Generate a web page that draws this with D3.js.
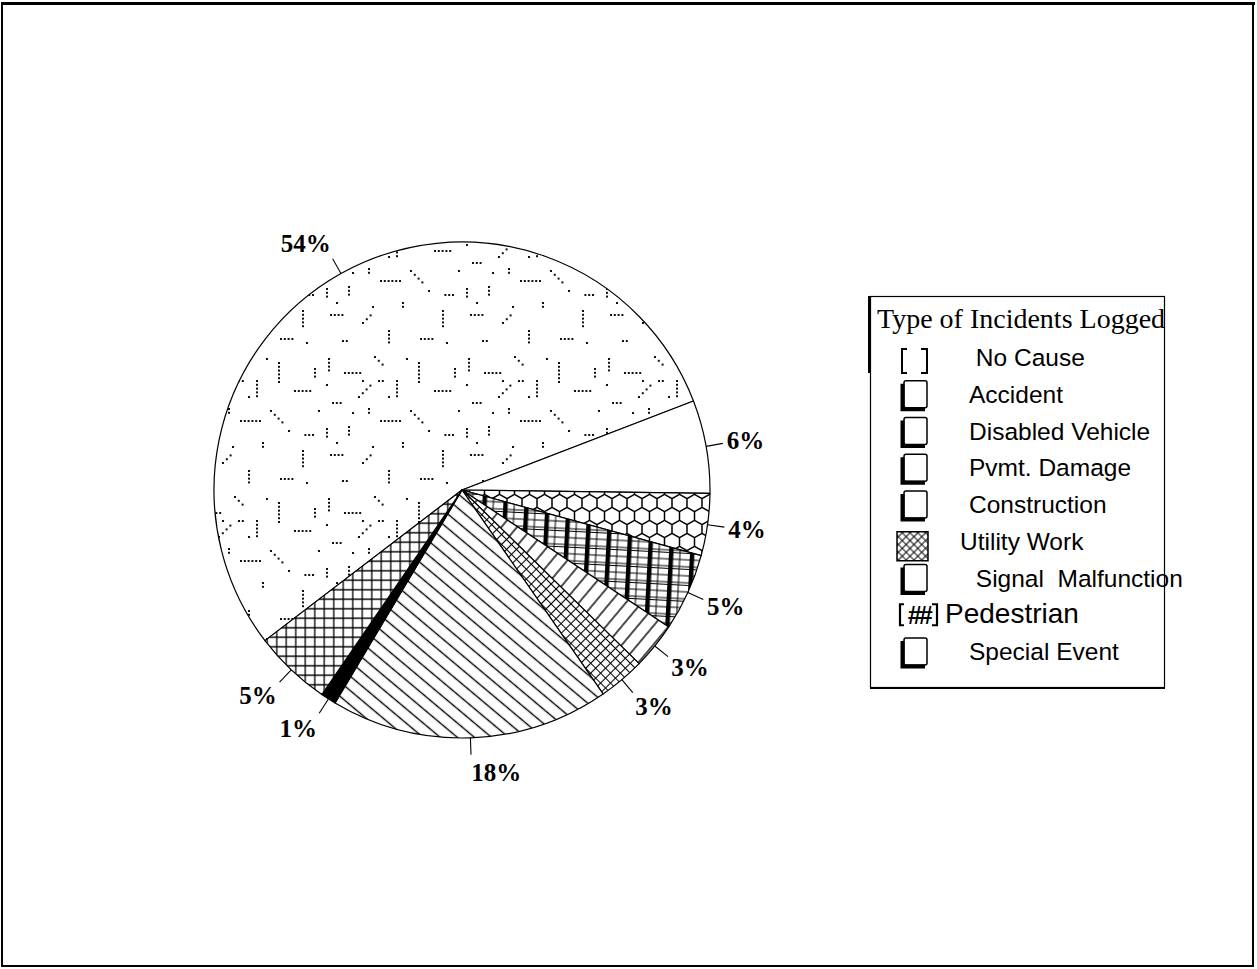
<!DOCTYPE html>
<html>
<head>
<meta charset="utf-8">
<script src="https://cdn.jsdelivr.net/npm/d3@7"></script>
<style>
  body { margin: 0; background: #fff; }
  svg { display: block; }
</style>
</head>
<body>
<svg id="chart"></svg>
<script>
// --- Data (pie order, clockwise from the big slice) ---
const categories = ["No Cause", "Accident", "Disabled Vehicle", "Pvmt. Damage", "Construction",
                    "Utility Work", "Signal Malfunction", "Pedestrian", "Special Event"];
const percents = [54, 6, 4, 5, 3, 3, 18, 1, 5];
const pctLabels = ["54%", "6%", "4%", "5%", "3%", "3%", "18%", "1%", "5%"];
const legendTitle = "Type of Incidents Logged";

const fills = ["url(#dots)", "#fff", "url(#hex)", "url(#plaid)", "url(#stripeUp)",
               "url(#smallCross)", "url(#stripeDown)", "#000", "url(#grid)"];
const legendIcons = ["bracket", "box", "box", "box", "box", "cross", "box", "hash", "box"];

// --- Sizing ---
const width = 1257, height = 969;
const cx = 462, cy = 490, radius = 248;

const svg = d3.select("#chart").attr("width", width).attr("height", height);
const defs = svg.append("defs");

// --- Patterns ---
// sparse dotted texture: short dotted runs [x, y, dx, dy, count]
const dotRuns = [
    [6, 8, 0, 1, 4], [22, 22, 1, 0, 5], [52, 6, 1, 1, 3], [74, 30, 0, 1, 5], [10, 52, 1, 0, 3],
    [36, 46, 1, -1, 4], [58, 70, 1, 0, 6], [26, 76, 0, 1, 3], [130, 84, -1, 0, 3], [46, 58, 0, 1, 2],
    [96, 12, 0, 1, 6], [112, 40, 1, 0, 5], [88, 60, 1, 1, 4], [120, 100, 0, 1, 5], [8, 104, 1, 0, 4],
    [40, 112, 1, -1, 3], [66, 120, 0, 1, 4], [98, 128, 1, 0, 4], [132, 18, 0, 1, 3], [20, 130, 1, 0, 2],
    [80, 92, 0, 1, 2], [56, 30, 1, 0, 2], [4, 78, 0, 1, 3],
    [84, 8, 0, 0, 1], [66, 46, 0, 0, 1], [4, 34, 0, 0, 1], [40, 30, 0, 0, 1], [14, 92, 0, 0, 1],
    [106, 80, 0, 0, 1], [136, 60, 0, 0, 1], [50, 96, 0, 0, 1], [124, 132, 0, 0, 1], [30, 62, 0, 0, 1]
];
const dots = defs.append("pattern").attr("id", "dots")
    .attr("patternUnits", "userSpaceOnUse").attr("width", 140).attr("height", 140);
dots.append("rect").attr("width", 140).attr("height", 140).attr("fill", "#fff");
dotRuns.forEach(([x0, y0, dx, dy, n]) => {
    for (let i = 0; i < n; i++) {
        dots.append("rect").attr("x", x0 + dx * i * 3.8).attr("y", y0 + dy * i * 3.8)
            .attr("width", 2).attr("height", 2).attr("fill", "#111");
    }
});

// honeycomb
const hex = defs.append("pattern").attr("id", "hex")
    .attr("patternUnits", "userSpaceOnUse").attr("width", 15).attr("height", 26);
hex.append("rect").attr("width", 15).attr("height", 26).attr("fill", "#fff");
hex.append("path")
    .attr("d", "M7.5,0V4.33L15,8.67V17.33L7.5,21.67V26M7.5,21.67L0,17.33V8.67L7.5,4.33")
    .attr("fill", "none").attr("stroke", "#000").attr("stroke-width", 1.5);

// plaid
const plaid = defs.append("pattern").attr("id", "plaid")
    .attr("patternUnits", "userSpaceOnUse").attr("width", 21).attr("height", 16)
    .attr("patternTransform", "rotate(3)");
plaid.append("rect").attr("width", 21).attr("height", 16).attr("fill", "#fff");
plaid.append("rect").attr("x", 0).attr("width", 4.5).attr("height", 16).attr("fill", "#000");
plaid.append("path").attr("d", "M11,0V16M0,1H21M0,3.5H21M0,10H21")
    .attr("stroke", "#000").attr("stroke-width", 1);

// stripes
function stripes(id, spacing, angle, sw) {
    const p = defs.append("pattern").attr("id", id)
        .attr("patternUnits", "userSpaceOnUse").attr("width", spacing).attr("height", spacing)
        .attr("patternTransform", `rotate(${angle})`);
    p.append("rect").attr("width", spacing).attr("height", spacing).attr("fill", "#fff");
    p.append("path").attr("d", `M0,${spacing / 2}H${spacing}`)
        .attr("stroke", "#000").attr("stroke-width", sw);
}
stripes("stripeUp", 12, -50, 1.4);
stripes("stripeDown", 11, 40, 1.4);

// grids
function grid(id, spacing, angle, sw) {
    const p = defs.append("pattern").attr("id", id)
        .attr("patternUnits", "userSpaceOnUse").attr("width", spacing).attr("height", spacing)
        .attr("patternTransform", `rotate(${angle})`);
    p.append("rect").attr("width", spacing).attr("height", spacing).attr("fill", "#fff");
    p.append("path").attr("d", `M0,${spacing / 2}H${spacing}M${spacing / 2},0V${spacing}`)
        .attr("stroke", "#000").attr("stroke-width", sw);
}
grid("smallCross", 7, 45, 1.1);
grid("grid", 9.5, 0, 1.3);
grid("legendCross", 5.5, 45, 1);

// --- Outer frame ---
svg.append("rect")
    .attr("x", 2).attr("y", 4).attr("width", 1251).attr("height", 962)
    .attr("fill", "none").attr("stroke", "#000").attr("stroke-width", 2);
svg.append("line").attr("x1", 1).attr("x2", 1255).attr("y1", 3.5).attr("y2", 3.5)
    .attr("stroke", "#000").attr("stroke-width", 3);

// --- Pie ---
const a0 = (142.6 + 90) * Math.PI / 180;
const pie = d3.pie().sort(null).value(d => d).startAngle(a0).endAngle(a0 + 2 * Math.PI);
const arcs = pie(percents);
const arc = d3.arc().innerRadius(0).outerRadius(radius);

const g = svg.append("g").attr("transform", `translate(${cx},${cy})`);

g.selectAll("path.slice")
    .data(arcs)
    .join("path")
    .attr("class", "slice")
    .attr("d", arc)
    .attr("fill", (d, i) => fills[i])
    .attr("stroke", "#000")
    .attr("stroke-width", 1.2)
    .attr("stroke-linejoin", "round");

// --- Leader lines & labels ---
const arcAt = r => d3.arc().innerRadius(r).outerRadius(r);
const lineStart = arcAt(radius), lineEnd = arcAt(radius + 17), textPos = arcAt(radius + 21);
const mid = d => (d.startAngle + d.endAngle) / 2;

g.selectAll("line.leader")
    .data(arcs)
    .join("line")
    .attr("class", "leader")
    .attr("x1", d => lineStart.centroid(d)[0])
    .attr("y1", d => lineStart.centroid(d)[1])
    .attr("x2", d => lineEnd.centroid(d)[0])
    .attr("y2", d => lineEnd.centroid(d)[1])
    .attr("stroke", "#000")
    .attr("stroke-width", 1.1);

g.selectAll("text.pct")
    .data(arcs)
    .join("text")
    .attr("class", "pct")
    .attr("x", d => textPos.centroid(d)[0])
    .attr("y", d => textPos.centroid(d)[1] + 8.5 - Math.cos(mid(d)) * 14)
    .attr("text-anchor", d => Math.sin(mid(d)) > -0.3 ? "start" : "end")
    .attr("font-family", "'Liberation Serif', 'Times New Roman', serif")
    .attr("font-weight", "bold")
    .attr("font-size", 25)
    .text((d, i) => pctLabels[i]);

// --- Legend ---
const legend = svg.append("g");
legend.append("rect")
    .attr("x", 870.5).attr("y", 296.5).attr("width", 294).attr("height", 391)
    .attr("fill", "none").attr("stroke", "#000").attr("stroke-width", 1.2);
legend.append("line").attr("x1", 869.5).attr("x2", 869.5).attr("y1", 296).attr("y2", 373)
    .attr("stroke", "#000").attr("stroke-width", 3);
legend.append("line").attr("x1", 870).attr("x2", 1165).attr("y1", 688).attr("y2", 688)
    .attr("stroke", "#000").attr("stroke-width", 2);

legend.append("text")
    .attr("x", 877).attr("y", 328)
    .attr("font-family", "'Liberation Serif', 'Times New Roman', serif")
    .attr("font-size", 28)
    .text(legendTitle);

const rowY = d3.scalePoint().domain(categories).range([366, 660]);

categories.forEach((name, i) => {
    const base = rowY(name);
    const kind = legendIcons[i];
    if (kind === "bracket") {
        legend.append("path")
            .attr("d", `M907,${base - 17}H902V${base + 7}H907M921,${base - 17}H927V${base + 7}H921`)
            .attr("fill", "none").attr("stroke", "#000").attr("stroke-width", 2);
    } else if (kind === "box") {
        legend.append("rect")
            .attr("x", 904).attr("y", base - 22).attr("width", 23).attr("height", 27).attr("rx", 2)
            .attr("fill", "#fff").attr("stroke", "#000").attr("stroke-width", 1.5);
        legend.append("path")
            .attr("d", `M902.5,${base - 19}V${base + 6.5}H925`)
            .attr("fill", "none").attr("stroke", "#000").attr("stroke-width", 4);
    } else if (kind === "cross") {
        legend.append("rect")
            .attr("x", 897).attr("y", base - 18).attr("width", 31).attr("height", 29)
            .attr("fill", "url(#legendCross)").attr("stroke", "#000").attr("stroke-width", 1.5);
    } else if (kind === "hash") {
        legend.append("path")
            .attr("d", `M904,${base - 19}H900V${base + 2}H904M932,${base - 19}H937V${base + 2}H932`)
            .attr("fill", "none").attr("stroke", "#000").attr("stroke-width", 2.2);
        legend.append("text")
            .attr("x", 918.5).attr("y", base + 1).attr("text-anchor", "middle")
            .attr("font-family", "'Liberation Sans', Arial, sans-serif")
            .attr("font-style", "italic").attr("font-weight", "bold")
            .attr("font-size", 25).attr("letter-spacing", -3)
            .text("##");
    }
    legend.append("text")
        .attr("x", kind === "hash" ? 945 : kind === "cross" ? 960 : 969)
        .attr("y", base)
        .attr("font-family", "'Liberation Sans', Arial, sans-serif")
        .attr("font-size", kind === "hash" ? 28 : 24.5)
        .attr("xml:space", "preserve")
        .text(name === "Signal Malfunction" ? " Signal  Malfunction"
            : name === "No Cause" ? " No Cause" : name);
});
</script>
</body>
</html>
